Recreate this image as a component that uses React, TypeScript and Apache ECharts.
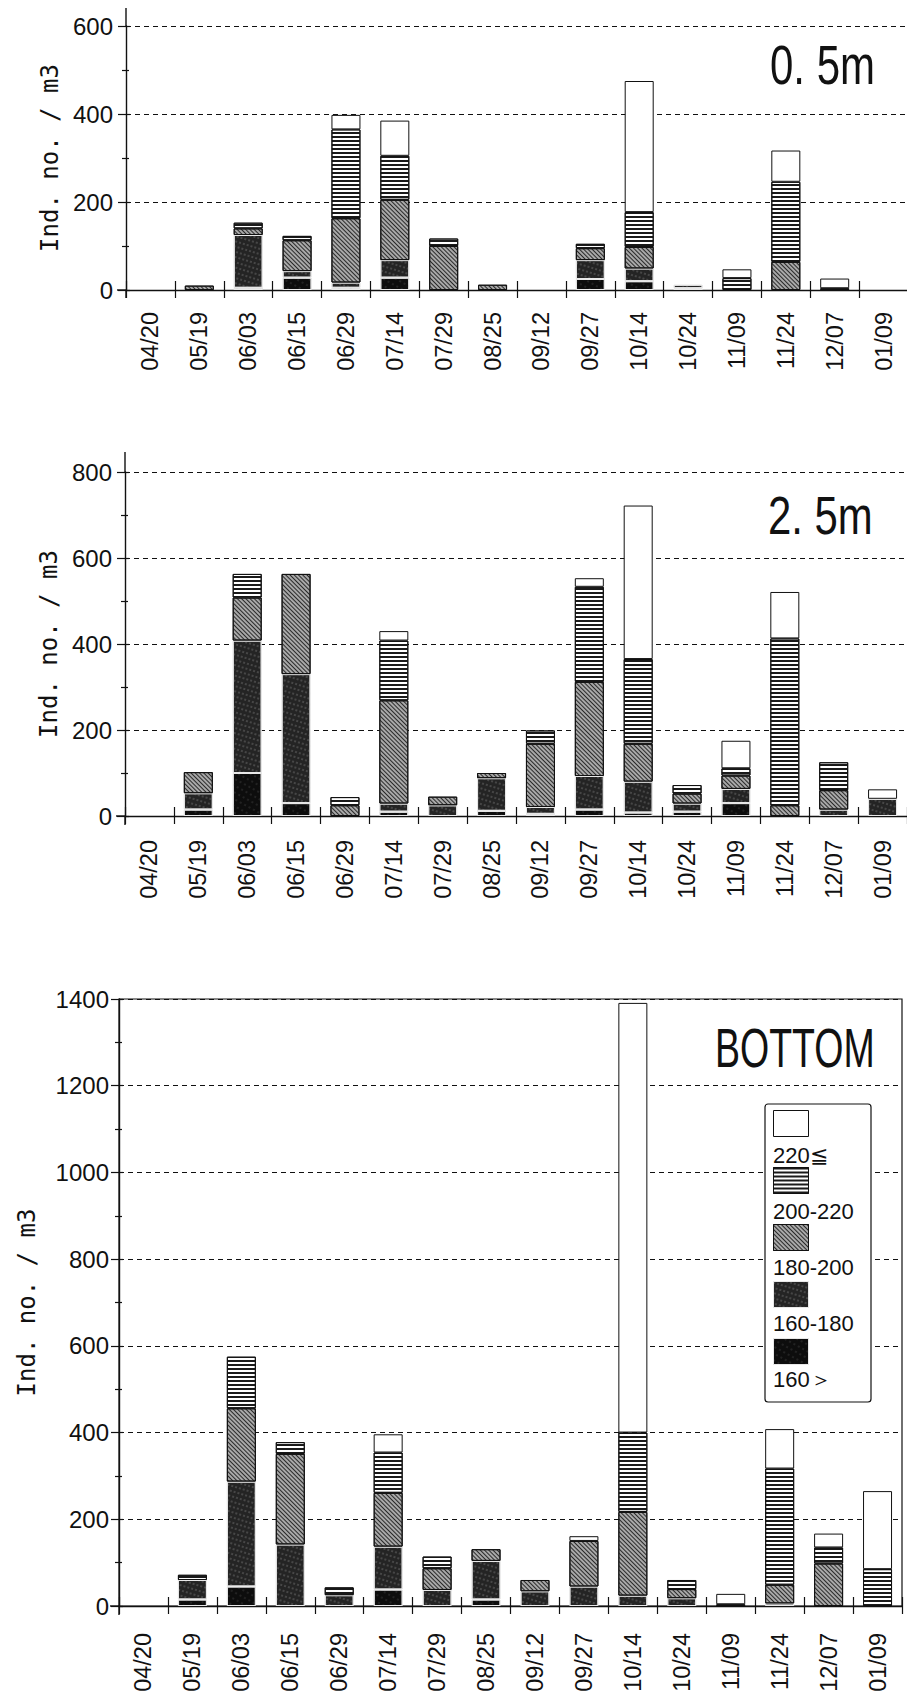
import React, { useEffect, useRef } from 'react';
import * as echarts from 'echarts';

// ---------------- data ----------------
const categories = ['04/20', '05/19', '06/03', '06/15', '06/29', '07/14', '07/29', '08/25', '09/12', '09/27', '10/14', '10/24', '11/09', '11/24', '12/07', '01/09'];

const sizeClasses = ['160＞', '160-180', '180-200', '200-220', '220≦'];
const legendOrder = ['220≦', '200-220', '180-200', '160-180', '160＞'];
const panelTitles = ['0. 5m', '2. 5m', 'BOTTOM'];
const yAxisName = 'Ind. no. / m3';

// 0.5 m
const d05_lt160 = [0, 0, 5, 28, 5, 28, 0, 0, 0, 25, 20, 4, 0, 0, 0, 0];
const d05_160_180 = [0, 0, 120, 15, 12, 40, 0, 0, 0, 43, 29, 8, 0, 0, 0, 0];
const d05_180_200 = [0, 10, 15, 70, 146, 137, 100, 12, 0, 27, 49, 0, 0, 64, 0, 0];
const d05_200_220 = [0, 0, 13, 10, 202, 100, 17, 0, 0, 10, 79, 0, 27, 182, 4, 0];
const d05_ge220 = [0, 0, 0, 0, 33, 80, 0, 0, 0, 0, 298, 0, 20, 71, 22, 0];

// 2.5 m
const d25_lt160 = [0, 15, 100, 30, 0, 10, 0, 12, 5, 15, 8, 10, 30, 0, 0, 0];
const d25_160_180 = [0, 38, 308, 300, 0, 19, 25, 76, 16, 78, 72, 19, 33, 0, 15, 40];
const d25_180_200 = [0, 49, 100, 233, 25, 240, 20, 12, 147, 219, 88, 23, 31, 25, 45, 0];
const d25_200_220 = [0, 0, 55, 0, 19, 139, 0, 0, 31, 221, 197, 20, 17, 388, 65, 0];
const d25_ge220 = [0, 0, 0, 0, 0, 22, 0, 0, 0, 20, 357, 0, 64, 108, 0, 22];

// bottom
const dB_lt160 = [0, 15, 45, 0, 0, 38, 0, 15, 0, 0, 0, 0, 0, 0, 0, 0];
const dB_160_180 = [0, 45, 242, 142, 25, 99, 37, 89, 34, 45, 24, 18, 0, 6, 0, 0];
const dB_180_200 = [0, 0, 169, 209, 0, 124, 50, 27, 26, 105, 193, 21, 0, 43, 98, 0];
const dB_200_220 = [0, 12, 119, 27, 18, 93, 27, 0, 0, 0, 183, 21, 4, 268, 37, 85];
const dB_ge220 = [0, 0, 0, 0, 0, 42, 0, 0, 0, 11, 991, 0, 24, 91, 32, 180];

const panelData = [
  [d05_lt160, d05_160_180, d05_180_200, d05_200_220, d05_ge220],
  [d25_lt160, d25_160_180, d25_180_200, d25_200_220, d25_ge220],
  [dB_lt160, dB_160_180, dB_180_200, dB_200_220, dB_ge220],
];
const panelMax = [600, 800, 1400];

// ---------------- layout / style ----------------
const FONT_SANS = "'Liberation Sans', Arial, sans-serif";
const FONT_MONO = "'DejaVu Sans Mono', 'Liberation Mono', monospace";
const INK = '#111';

const layouts = [
  { left: 126, top: 26, width: 782, height: 264, nameGap: 64, yMargin: 13, xMargin: 22, extTop: 8, extBottom: 298, frame: false },
  { left: 125, top: 472, width: 782, height: 344, nameGap: 64, yMargin: 13, xMargin: 24, extTop: 452, extBottom: 825, frame: false },
  { left: 119, top: 999, width: 783, height: 607, nameGap: 80, yMargin: 10, xMargin: 27, extTop: 999, extBottom: 1615, frame: true },
];

const titleLayout = [
  { x: 770, y: 64, size: 56, scaleX: 0.75 },
  { x: 768, y: 516, size: 53, scaleX: 0.79 },
  { x: 715, y: 1048, size: 56, scaleX: 0.67 },
];

const legendLayout = { left: 765, top: 1104, textX: 773, firstTextY: 1155, step: 56 };

const classStyles: any[] = [
  { color: '#0d0d0d', borderColor: '#e8e8e8', decal: { symbol: 'circle', symbolSize: 0.6, color: '#4a4a4a', dashArrayX: [2, 3], dashArrayY: [2, 4], rotation: 0.5 } },
  { color: '#242424', borderColor: '#e8e8e8', decal: { symbol: 'circle', symbolSize: 0.7, color: '#7a7a7a', dashArrayX: [2, 2], dashArrayY: [2, 3], rotation: 0.3 } },
  { color: '#a8a8a8', borderColor: INK, decal: { symbol: 'rect', symbolSize: 1, color: '#2a2a2a', dashArrayX: [1, 0], dashArrayY: [1, 2], rotation: Math.PI / 4 } },
  { color: '#ffffff', borderColor: INK, decal: { symbol: 'rect', symbolSize: 1, color: '#1a1a1a', dashArrayX: [1, 0], dashArrayY: [1.4, 2], rotation: 0 } },
  { color: '#ffffff', borderColor: INK },
];

function buildOption(): any {
  const grid = layouts.map((l) => ({
    left: l.left, top: l.top, width: l.width, height: l.height,
    show: l.frame, borderColor: INK, borderWidth: 1.2, backgroundColor: 'transparent',
    containLabel: false, outerBoundsMode: 'none',
  }));

  const xAxis: any[] = [];
  const yAxis: any[] = [];
  layouts.forEach((l, i) => {
    xAxis.push({
      gridIndex: i, type: 'category', data: categories, position: 'bottom',
      axisLine: { show: true, lineStyle: { color: INK, width: 1.4 } },
      axisTick: { show: true, length: 8, lineStyle: { color: INK, width: 1.2 } },
      axisLabel: { rotate: 90, margin: l.xMargin, fontFamily: FONT_SANS, fontSize: 23.5, color: INK, interval: 0 },
      splitLine: { show: false },
    });
    xAxis.push({
      gridIndex: i, type: 'category', data: categories, position: 'bottom',
      axisLine: { show: false },
      axisTick: { show: true, inside: true, length: 9, lineStyle: { color: INK, width: 1.2 } },
      axisLabel: { show: false },
      splitLine: { show: false },
    });
    yAxis.push({
      gridIndex: i, type: 'value', min: 0, max: panelMax[i], interval: 200, position: 'left',
      axisLine: { show: true, lineStyle: { color: INK, width: 1.4 } },
      axisTick: { show: true, length: 8, lineStyle: { color: INK, width: 1.2 } },
      minorTick: { show: true, splitNumber: 2, length: 4, lineStyle: { color: INK, width: 1.2 } },
      axisLabel: { margin: l.yMargin, fontFamily: FONT_SANS, fontSize: 24, color: INK, formatter: (v: number) => String(v) },
      splitLine: { show: true, lineStyle: { color: INK, type: [5, 4], width: 1.2 } },
      name: yAxisName, nameLocation: 'middle', nameGap: l.nameGap, nameRotate: 90,
      nameTextStyle: { fontFamily: FONT_MONO, fontSize: 24, color: INK },
    });
    yAxis.push({
      gridIndex: i, type: 'value', min: 0, max: panelMax[i], interval: 200, position: 'left',
      axisLine: { show: false },
      axisTick: { show: true, inside: true, length: 4, lineStyle: { color: INK, width: 1.2 } },
      minorTick: { show: true, splitNumber: 2, length: 3, lineStyle: { color: INK, width: 1.2 } },
      axisLabel: { show: false },
      splitLine: { show: false },
    });
  });

  const series: any[] = [];
  panelData.forEach((arrs, p) => {
    arrs.forEach((arr, k) => {
      series.push({
        type: 'bar',
        name: sizeClasses[k],
        xAxisIndex: 2 * p,
        yAxisIndex: 2 * p,
        stack: 'panel' + p,
        barWidth: 29,
        data: arr.map((v) => (v > 0 ? v : null)),
        itemStyle: { ...classStyles[k], borderWidth: 1 },
        emphasis: { disabled: true },
        silent: true,
      });
    });
  });

  const graphic: any[] = [];
  panelTitles.forEach((t, i) => {
    const tl = titleLayout[i];
    graphic.push({
      type: 'text', x: tl.x, y: tl.y, scaleX: tl.scaleX, z: 20,
      style: { text: t, fontFamily: FONT_SANS, fontSize: tl.size, fill: INK, align: 'left', verticalAlign: 'middle' },
    });
  });
  legendOrder.forEach((name, i) => {
    graphic.push({
      type: 'text', x: legendLayout.textX, y: legendLayout.firstTextY + i * legendLayout.step, z: 20,
      style: { text: name, fontFamily: FONT_SANS, fontSize: 22, fill: INK, align: 'left', verticalAlign: 'middle' },
    });
  });
  layouts.forEach((l) => {
    if (l.extTop < l.top) {
      graphic.push({ type: 'line', shape: { x1: l.left, y1: l.extTop, x2: l.left, y2: l.top }, style: { stroke: INK, lineWidth: 1.4 } });
    }
    graphic.push({ type: 'line', shape: { x1: l.left, y1: l.top + l.height, x2: l.left, y2: l.extBottom }, style: { stroke: INK, lineWidth: 1.4 } });
    graphic.push({ type: 'line', shape: { x1: l.left - 9, y1: l.top + l.height, x2: l.left, y2: l.top + l.height }, style: { stroke: INK, lineWidth: 1.4 } });
  });

  return {
    animation: false,
    backgroundColor: '#fff',
    grid,
    xAxis,
    yAxis,
    series,
    graphic,
    legend: {
      show: true,
      orient: 'vertical',
      left: legendLayout.left,
      top: legendLayout.top,
      data: legendOrder,
      icon: 'rect',
      itemWidth: 35,
      itemHeight: 26,
      itemGap: 30,
      padding: [6, 62, 37, 8],
      backgroundColor: '#fff',
      borderColor: INK,
      borderWidth: 1.2,
      borderRadius: 3,
      selectedMode: false,
      formatter: () => '',
      itemStyle: { borderWidth: 1 },
      textStyle: { fontFamily: FONT_SANS, fontSize: 22, color: INK },
    },
  };
}

export default function App() {
  const ref = useRef<HTMLDivElement>(null);
  useEffect(() => {
    if (!ref.current) return;
    const chart = echarts.init(ref.current, null, { renderer: 'svg' });
    chart.setOption(buildOption());
    return () => chart.dispose();
  }, []);
  return <div ref={ref} style={{ position: 'absolute', left: 0, top: 0, width: 907, height: 1699, background: '#fff' }} />;
}
